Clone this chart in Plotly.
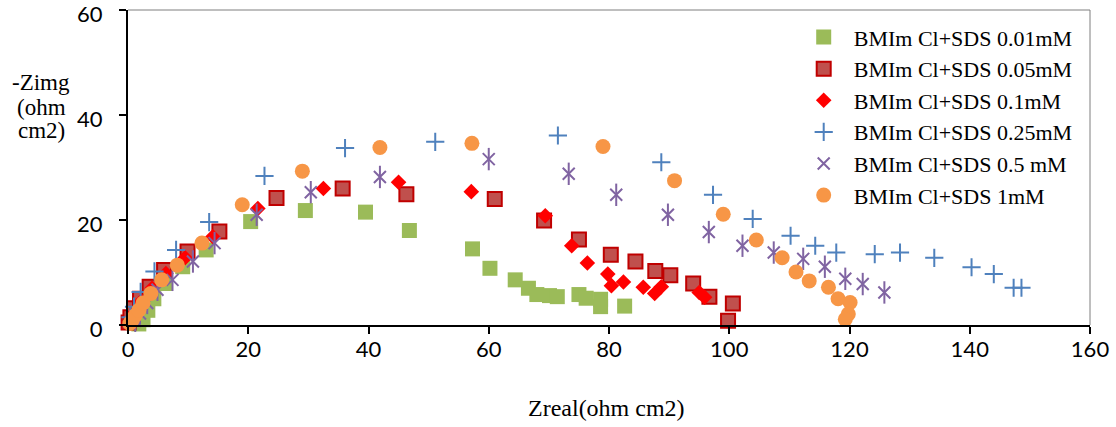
import plotly.graph_objects as go

names = ["BMIm Cl+SDS 0.01mM", "BMIm Cl+SDS 0.05mM", "BMIm Cl+SDS 0.1mM",
         "BMIm Cl+SDS 0.25mM", "BMIm Cl+SDS 0.5 mM", "BMIm Cl+SDS 1mM"]

x_001 = [1.8, 2.5, 3.3, 4.3, 6.1, 9.1, 13.0, 20.4, 29.5, 39.5, 46.8, 57.3, 60.2, 64.4, 66.6, 68.0, 70.1, 71.4, 75.0, 76.2, 78.6, 78.6, 82.6]
y_001 = [0.2, 1.0, 2.8, 5.0, 7.9, 11.1, 14.3, 19.7, 21.8, 21.5, 18.0, 14.5, 10.8, 8.6, 7.0, 5.8, 5.6, 5.4, 5.8, 5.1, 4.9, 3.5, 3.6]

x_005 = [0.1, 0.4, 1.0, 2.0, 3.6, 6.0, 9.9, 15.2, 24.7, 35.7, 46.3, 61.0, 69.2, 75.0, 80.3, 84.4, 87.7, 90.2, 94.0, 96.7, 100.6, 99.8]
y_005 = [0.5, 1.5, 3.2, 5.0, 7.3, 10.5, 14.0, 17.8, 24.2, 26.0, 24.9, 24.0, 19.9, 16.3, 13.4, 12.1, 10.3, 9.5, 7.9, 5.4, 4.1, 0.8]

x_01 = [0.3, 1.0, 2.2, 4.0, 6.3, 9.5, 14.1, 21.6, 32.5, 45.0, 57.1, 69.4, 73.8, 76.4, 79.8, 80.4, 82.4, 85.7, 87.6, 88.7, 95.0, 95.9]
y_01 = [0.5, 2.2, 4.5, 7.0, 9.8, 12.8, 16.8, 22.2, 26.0, 27.2, 25.4, 20.8, 15.1, 11.8, 9.7, 7.5, 8.2, 7.2, 6.0, 7.3, 6.2, 5.3]

x_025 = [0.4, 1.0, 2.1, 4.4, 8.0, 13.5, 22.7, 36.1, 51.1, 71.5, 88.7, 97.3, 103.9, 110.2, 114.3, 117.8, 124.2, 128.4, 134.1, 140.3, 144.0, 147.3, 148.6]
y_025 = [1.5, 3.5, 6.3, 10.2, 14.3, 19.6, 28.4, 33.7, 34.9, 36.1, 31.0, 24.8, 20.2, 17.0, 15.1, 13.8, 13.5, 13.8, 12.8, 11.0, 9.7, 7.1, 7.1]

x_05 = [1.2, 2.0, 3.2, 4.9, 7.4, 10.8, 14.4, 21.4, 30.4, 41.9, 60.0, 73.3, 81.2, 89.8, 96.6, 102.2, 107.4, 112.3, 115.9, 119.3, 122.2, 125.8]
y_05 = [0.8, 2.2, 4.2, 6.7, 8.6, 12.1, 15.6, 21.0, 25.3, 28.2, 31.6, 28.8, 24.8, 21.0, 17.7, 15.1, 13.8, 12.6, 11.1, 8.8, 7.8, 6.2]

x_1 = [0.3, 0.7, 1.2, 1.8, 2.5, 3.8, 5.6, 8.2, 12.3, 19.0, 29.0, 41.9, 57.2, 79.0, 90.9, 99.0, 104.5, 108.8, 111.1, 113.3, 116.5, 118.1, 120.1, 119.8, 119.3]
y_1 = [0.3, 0.9, 1.8, 2.8, 4.2, 6.0, 8.6, 11.4, 15.6, 22.9, 29.3, 33.8, 34.6, 34.0, 27.5, 21.1, 16.2, 12.8, 10.1, 8.4, 7.2, 5.0, 4.3, 2.1, 1.1]

x_ticks = [0, 20, 40, 60, 80, 100, 120, 140, 160]
y_ticks = [0, 20, 40, 60]
y_title_lines = ["-Zimg", "(ohm", "cm2)"]
x_title = "Zreal(ohm cm2)"

fig = go.Figure()
fig.add_trace(go.Scatter(x=x_001, y=y_001, mode="markers", name=names[0], cliponaxis=False,
                         marker=dict(symbol="square", size=15, color="#9BBB59")))
fig.add_trace(go.Scatter(x=x_005, y=y_005, mode="markers", name=names[1], cliponaxis=False,
                         marker=dict(symbol="square", size=14, color="#C0504D",
                                     line=dict(color="#C00000", width=2))))
fig.add_trace(go.Scatter(x=x_01, y=y_01, mode="markers", name=names[2], cliponaxis=False,
                         marker=dict(symbol="diamond", size=12, color="#FF0000")))
fig.add_trace(go.Scatter(x=x_025, y=y_025, mode="markers", name=names[3], cliponaxis=False,
                         marker=dict(symbol="cross-thin-open", size=13, color="#4F81BD",
                                     line=dict(color="#4F81BD", width=2))))
fig.add_trace(go.Scatter(x=x_05, y=y_05, mode="markers", name=names[4], cliponaxis=False,
                         legendgroup="p05",
                         marker=dict(symbol="x-thin-open", size=12, color="#8064A2",
                                     line=dict(color="#8064A2", width=2))))
fig.add_trace(go.Scatter(x=x_05, y=y_05, mode="markers", name=names[4], cliponaxis=False,
                         legendgroup="p05", showlegend=False,
                         marker=dict(symbol="line-ns-open", size=16, color="#8064A2",
                                     line=dict(color="#8064A2", width=2))))
fig.add_trace(go.Scatter(x=x_1, y=y_1, mode="markers", name=names[5], cliponaxis=False,
                         marker=dict(symbol="circle", size=15, color="#F79646")))

tick_font = dict(family="Lato, Carlito, sans-serif", size=22, color="black")
serif = "Liberation Serif, Times New Roman, serif"

annotations = [
    dict(text=x_title, xref="paper", yref="paper", x=0.497, y=-0.265,
         xanchor="center", yanchor="middle", showarrow=False,
         font=dict(family=serif, size=24, color="black")),
]
for txt, yp in zip(y_title_lines, [0.771, 0.692, 0.619]):
    annotations.append(dict(text=txt, xref="paper", yref="paper", x=-0.09, y=yp,
                            xanchor="center", yanchor="middle", showarrow=False,
                            font=dict(family=serif, size=23, color="black")))

fig.update_layout(
    width=1116, height=427,
    margin=dict(l=128, r=26, t=10, b=102, autoexpand=False),
    plot_bgcolor="white", paper_bgcolor="white",
    showlegend=True,
    legend=dict(x=0.692, y=0.98, xanchor="left", yanchor="top",
                font=dict(family=serif, size=22, color="black"),
                bgcolor="rgba(0,0,0,0)", itemwidth=50, tracegroupgap=0),
    xaxis=dict(range=[0, 160], tickvals=x_ticks, ticktext=[str(v) for v in x_ticks],
               showgrid=False, zeroline=False, showline=True, linecolor="black", linewidth=2,
               ticks="outside", ticklen=7, tickwidth=2, tickcolor="black", automargin=False,
               ticklabeloverflow="allow", tickfont=tick_font, ticklabelstandoff=-3),
    yaxis=dict(range=[0, 60], tickvals=y_ticks, ticktext=[str(v) for v in y_ticks],
               showgrid=False, zeroline=False, showline=True, linecolor="black", linewidth=2,
               ticks="outside", ticklen=7, tickwidth=2, tickcolor="black", automargin=False,
               ticklabeloverflow="allow", tickfont=tick_font, ticklabelstandoff=12,
               ticklabelshift=4),
    shapes=[
        dict(type="line", xref="paper", yref="paper", x0=0, x1=1, y0=1, y1=1,
             line=dict(color="#7F7F7F", width=1), layer="below"),
        dict(type="line", xref="paper", yref="paper", x0=1, x1=1, y0=0, y1=1,
             line=dict(color="#7F7F7F", width=1), layer="below"),
    ],
    annotations=annotations,
)

fig.write_html("out.html", config={"displayModeBar": False},
               post_script="document.body.style.margin='0px';")
